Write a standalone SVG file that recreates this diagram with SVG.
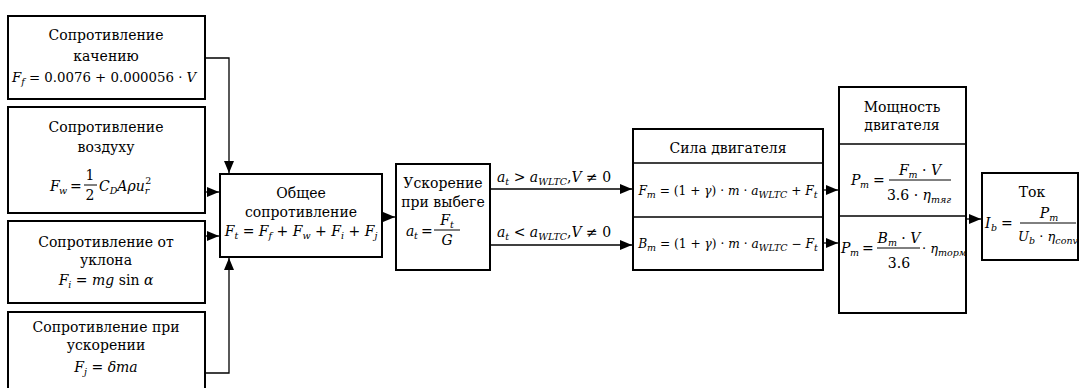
<svg xmlns="http://www.w3.org/2000/svg" width="1080" height="388" viewBox="0 0 1080 388" font-family="DejaVu Serif, serif" font-size="14">
<style>
.box{fill:#fff;stroke:#000;stroke-width:2}
.ln{fill:none;stroke:#000;stroke-width:1.3}
.c{text-anchor:middle}
.i{font-style:italic}
.s{font-size:9.5px;font-style:italic}
.bar{stroke:#000;stroke-width:1}
.f12{font-size:12.2px}
</style>
<defs>
<marker id="ah" markerUnits="userSpaceOnUse" markerWidth="12" markerHeight="12" viewBox="0 0 12 12" refX="12" refY="6" orient="auto">
<path d="M0,1 L12,6 L0,11 Z" fill="#000"/>
</marker>
</defs>
<rect width="1080" height="388" fill="#fff"/>

<g id="connectors">
<polyline class="ln" points="205,58 229,58 229,173" marker-end="url(#ah)"/>
<line class="ln" x1="205" y1="192" x2="219" y2="192" marker-end="url(#ah)"/>
<line class="ln" x1="205" y1="236" x2="219" y2="236" marker-end="url(#ah)"/>
<polyline class="ln" points="205,373 229,373 229,258" marker-end="url(#ah)"/>
<line class="ln" x1="382" y1="217" x2="395" y2="217" marker-end="url(#ah)"/>
<line class="ln" x1="490" y1="189" x2="632" y2="189" marker-end="url(#ah)"/>
<line class="ln" x1="490" y1="245" x2="632" y2="245" marker-end="url(#ah)"/>
<line class="ln" x1="823" y1="190" x2="838" y2="190" marker-end="url(#ah)"/>
<line class="ln" x1="823" y1="243" x2="838" y2="243" marker-end="url(#ah)"/>
<line class="ln" x1="966" y1="219" x2="981" y2="219" marker-end="url(#ah)"/>
<text x="497" y="182"><tspan class="i">a</tspan><tspan class="s" dy="3">t</tspan><tspan dy="-3"> &gt; </tspan><tspan class="i">a</tspan><tspan class="s" dy="3">WLTC</tspan><tspan dy="-3">,</tspan><tspan class="i">V</tspan><tspan> ≠ 0</tspan></text>
<text x="497" y="237"><tspan class="i">a</tspan><tspan class="s" dy="3">t</tspan><tspan dy="-3"> &lt; </tspan><tspan class="i">a</tspan><tspan class="s" dy="3">WLTC</tspan><tspan dy="-3">,</tspan><tspan class="i">V</tspan><tspan> ≠ 0</tspan></text>
</g>

<g id="rolling">
<rect class="box" x="8" y="16" width="197" height="83"/>
<text class="c" x="106" y="40">Сопротивление</text>
<text class="c" x="106" y="61">качению</text>
<text x="12" y="82" font-size="13.3"><tspan class="i">F</tspan><tspan class="s" dy="3">f</tspan><tspan dy="-3"> = 0.0076 + 0.000056 · </tspan><tspan class="i">V</tspan></text>
</g>

<g id="air">
<rect class="box" x="8" y="107" width="197" height="106"/>
<text class="c" x="106" y="132">Сопротивление</text>
<text class="c" x="106" y="152">воздуху</text>
<text class="i" x="50" y="191">F</text>
<text class="s" x="59" y="194">w</text>
<text x="70" y="191">=</text>
<text class="c" x="90" y="180">1</text>
<line class="bar" x1="84" y1="185" x2="97" y2="185"/>
<text class="c" x="90" y="200">2</text>
<text x="99" y="191"><tspan class="i">C</tspan><tspan class="s" dy="3">D</tspan><tspan class="i" dy="-3">Aρu</tspan><tspan class="s" dy="3">r</tspan><tspan font-size="9.5" dx="-4" dy="-10">2</tspan></text>
</g>

<g id="slope">
<rect class="box" x="8" y="221" width="197" height="82"/>
<text class="c" x="106" y="247">Сопротивление от</text>
<text class="c" x="106" y="265">уклона</text>
<text class="c" x="106" y="285"><tspan class="i">F</tspan><tspan class="s" dy="3">i</tspan><tspan dy="-3"> = </tspan><tspan class="i">mg</tspan><tspan> sin </tspan><tspan class="i">α</tspan></text>
</g>

<g id="accel">
<rect class="box" x="8" y="312" width="197" height="82"/>
<text class="c" x="106" y="332">Сопротивление при</text>
<text class="c" x="106" y="350">ускорении</text>
<text class="c" x="106" y="372"><tspan class="i">F</tspan><tspan class="s" dy="3">j</tspan><tspan dy="-3"> = </tspan><tspan class="i">δma</tspan></text>
</g>

<g id="total">
<rect class="box" x="220" y="174" width="162" height="83"/>
<text class="c" x="301" y="198">Общее</text>
<text class="c" x="301" y="217">сопротивление</text>
<text class="c" x="301" y="236"><tspan class="i">F</tspan><tspan class="s" dy="3">t</tspan><tspan dy="-3"> = </tspan><tspan class="i">F</tspan><tspan class="s" dy="3">f</tspan><tspan dy="-3"> + </tspan><tspan class="i">F</tspan><tspan class="s" dy="3">w</tspan><tspan dy="-3"> + </tspan><tspan class="i">F</tspan><tspan class="s" dy="3">i</tspan><tspan dy="-3"> + </tspan><tspan class="i">F</tspan><tspan class="s" dy="3">j</tspan></text>
</g>

<g id="coast">
<rect class="box" x="396" y="164" width="94" height="106"/>
<text class="c" x="443" y="188">Ускорение</text>
<text class="c" x="443" y="207">при выбеге</text>
<text class="i" x="406" y="236">a</text>
<text class="s" x="414" y="239">t</text>
<text x="421" y="236">=</text>
<text class="c" x="447" y="225"><tspan class="i">F</tspan><tspan class="s" dy="3">t</tspan></text>
<line class="bar" x1="434" y1="230" x2="460" y2="230"/>
<text class="c i" x="447" y="245">G</text>
</g>

<g id="force">
<rect class="box" x="633" y="129" width="190" height="141"/>
<line class="ln" x1="633" y1="163" x2="823" y2="163" stroke-width="2"/>
<line class="ln" x1="633" y1="217" x2="823" y2="217" stroke-width="2"/>
<text class="c" x="728" y="153">Сила двигателя</text>
<text class="c f12" x="728" y="195"><tspan class="i">F</tspan><tspan class="s" dy="3">m</tspan><tspan dy="-3"> = (1 + </tspan><tspan class="i">γ</tspan><tspan>) · </tspan><tspan class="i">m</tspan><tspan> · </tspan><tspan class="i">a</tspan><tspan class="s" dy="3">WLTC</tspan><tspan dy="-3"> + </tspan><tspan class="i">F</tspan><tspan class="s" dy="3">t</tspan></text>
<text class="c f12" x="728" y="248"><tspan class="i">B</tspan><tspan class="s" dy="3">m</tspan><tspan dy="-3"> = (1 + </tspan><tspan class="i">γ</tspan><tspan>) · </tspan><tspan class="i">m</tspan><tspan> · </tspan><tspan class="i">a</tspan><tspan class="s" dy="3">WLTC</tspan><tspan dy="-3"> − </tspan><tspan class="i">F</tspan><tspan class="s" dy="3">t</tspan></text>
</g>

<g id="power">
<rect class="box" x="839" y="87" width="127" height="226"/>
<line class="ln" x1="839" y1="144" x2="966" y2="144" stroke-width="2"/>
<line class="ln" x1="839" y1="216" x2="966" y2="216" stroke-width="2"/>
<text class="c" x="902" y="112">Мощность</text>
<text class="c" x="902" y="130">двигателя</text>
<text class="i" x="851" y="185">P</text>
<text class="s" x="860" y="188">m</text>
<text x="873" y="185">=</text>
<text class="c" x="920" y="175"><tspan class="i">F</tspan><tspan class="s" dy="3">m</tspan><tspan dy="-3"> · </tspan><tspan class="i">V</tspan></text>
<line class="bar" x1="889" y1="180" x2="951" y2="180"/>
<text class="c" x="919" y="200"><tspan>3.6 · </tspan><tspan class="i">η</tspan><tspan class="s" dy="3">тяг</tspan></text>
<text class="i" x="841" y="253">P</text>
<text class="s" x="850" y="256">m</text>
<text x="862" y="253">=</text>
<text class="c" x="899" y="243"><tspan class="i">B</tspan><tspan class="s" dy="3">m</tspan><tspan dy="-3"> · </tspan><tspan class="i">V</tspan></text>
<line class="bar" x1="877" y1="248" x2="920" y2="248"/>
<text class="c" x="899" y="268">3.6</text>
<text x="922" y="253" font-size="13"><tspan>· </tspan><tspan class="i">η</tspan><tspan class="s" dy="3" font-size="9">торм</tspan></text>
</g>

<g id="current">
<rect class="box" x="982" y="173" width="96" height="87"/>
<text class="c" x="1032" y="197">Ток</text>
<text class="i" x="985" y="228">I</text>
<text class="s" x="991" y="231">b</text>
<text x="1001" y="228">=</text>
<text class="c" x="1049" y="218"><tspan class="i">P</tspan><tspan class="s" dy="3">m</tspan></text>
<line class="bar" x1="1020" y1="223" x2="1076" y2="223"/>
<text class="c" x="1048" y="241" font-size="13"><tspan class="i">U</tspan><tspan class="s" dy="3" font-size="9">b</tspan><tspan dy="-3"> · </tspan><tspan class="i">η</tspan><tspan class="s" dy="3" font-size="9">conv</tspan></text>
</g>
</svg>
